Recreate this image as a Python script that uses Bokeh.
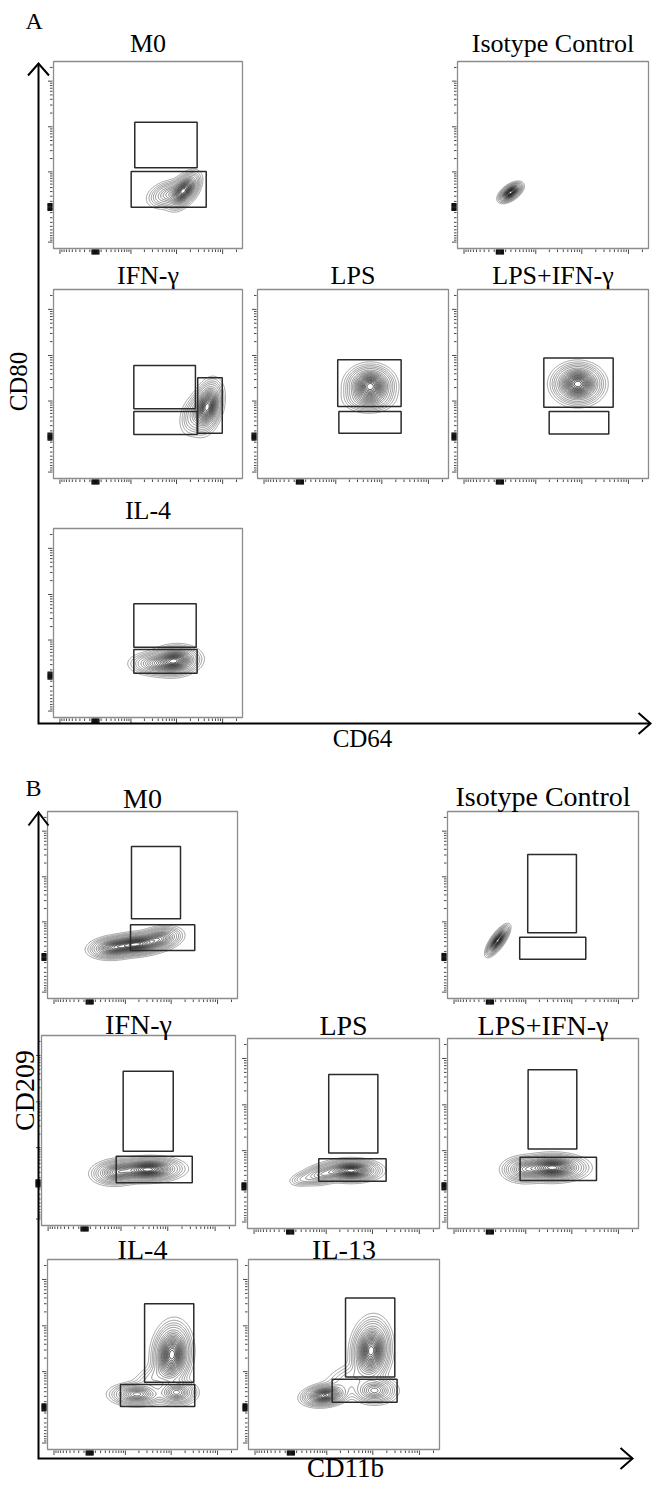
import numpy as np
from contourpy import contour_generator
from bokeh.plotting import figure
from bokeh.models import Range1d
from bokeh.core.properties import value
from bokeh.embed import file_html
from bokeh.resources import INLINE

SERIF = value("Liberation Serif")
PAGE_W, PAGE_H = 654, 1486

# ---------------------------------------------------------------------------
# Axis scale: logicle-like display units (0..1 across each plot box)
# ---------------------------------------------------------------------------
Z0, DEC, LIN = 0.222, 0.106, 350.0


def disp(v):
    return Z0 + DEC * np.arcsinh(np.asarray(v, dtype=float) / LIN)


tick_major = [-1e3, 1e3, 1e4, 1e5]
tick_zero = [-60, -45, -30, -15, 0, 15, 30, 45, 60]
tick_minor = ([s * k * 100 for k in range(1, 10) for s in (-1, 1)]
              + [k * 10 ** e for e in (3, 4) for k in range(2, 10)] + [2e5])

# ---------------------------------------------------------------------------
# Gates (x0, x1, y0, y1) and populations (cx, cy, sx, sy, rho, weight)
# in display units
# ---------------------------------------------------------------------------
titles_a = ["M0", "Isotype Control", "IFN-γ", "LPS", "LPS+IFN-γ", "IL-4"]
titles_b = ["M0", "Isotype Control", "IFN-γ", "LPS", "LPS+IFN-γ", "IL-4", "IL-13"]

gates_a_m0 = [(0.430, 0.760, 0.432, 0.675), (0.411, 0.808, 0.221, 0.412)]
gates_a_iso = []
gates_a_ifn = [(0.425, 0.751, 0.369, 0.598), (0.425, 0.760, 0.233, 0.354),
               (0.763, 0.893, 0.240, 0.533)]
gates_a_lps = [(0.420, 0.752, 0.381, 0.628), (0.426, 0.752, 0.240, 0.354)]
gates_a_lpsifn = [(0.452, 0.815, 0.377, 0.637), (0.480, 0.792, 0.236, 0.354)]
gates_a_il4 = [(0.425, 0.755, 0.372, 0.602), (0.425, 0.760, 0.234, 0.360)]

gates_b_m0 = [(0.442, 0.700, 0.426, 0.813), (0.437, 0.775, 0.257, 0.394)]
gates_b_iso = [(0.420, 0.675, 0.351, 0.770), (0.378, 0.724, 0.210, 0.328)]
gates_b_ifn = [(0.421, 0.679, 0.391, 0.812), (0.385, 0.777, 0.225, 0.365)]
gates_b_lps = [(0.423, 0.679, 0.398, 0.811), (0.371, 0.722, 0.249, 0.367)]
gates_b_lpsifn = [(0.422, 0.677, 0.419, 0.835), (0.380, 0.780, 0.253, 0.375)]
gates_b_il4 = [(0.511, 0.770, 0.354, 0.767), (0.384, 0.775, 0.226, 0.342)]
gates_b_il13 = [(0.508, 0.766, 0.381, 0.798), (0.438, 0.778, 0.249, 0.370)]

pops_a_m0 = [(0.69, 0.31, 0.035, 0.040, 0.5, 1.0), (0.61, 0.29, 0.048, 0.032, 0.3, 0.35)]
pops_a_iso = [(0.278, 0.30, 0.025, 0.021, 0.55, 1.0)]
pops_a_ifn = [(0.815, 0.38, 0.033, 0.056, 0.3, 1.0), (0.75, 0.34, 0.036, 0.050, 0.3, 0.2)]
pops_a_lps = [(0.59, 0.49, 0.052, 0.044, 0.0, 1.0), (0.58, 0.42, 0.056, 0.030, 0.0, 0.25)]
pops_a_lpsifn = [(0.63, 0.50, 0.055, 0.044, 0.0, 1.0)]
pops_a_il4 = [(0.64, 0.30, 0.055, 0.032, 0.1, 1.0), (0.53, 0.285, 0.055, 0.026, 0.0, 0.35)]

pops_b_m0 = [(0.35, 0.272, 0.055, 0.025, 0.15, 0.75), (0.47, 0.29, 0.060, 0.025, 0.15, 1.0),
             (0.59, 0.32, 0.050, 0.027, 0.25, 0.6)]
pops_b_iso = [(0.263, 0.31, 0.024, 0.032, 0.75, 1.0)]
pops_b_ifn = [(0.55, 0.295, 0.072, 0.026, 0.05, 1.0), (0.39, 0.28, 0.055, 0.028, 0.1, 0.55)]
pops_b_lps = [(0.54, 0.305, 0.062, 0.024, 0.0, 1.0), (0.39, 0.285, 0.050, 0.024, 0.3, 0.35),
              (0.29, 0.26, 0.035, 0.018, 0.3, 0.1)]
pops_b_lpsifn = [(0.55, 0.32, 0.072, 0.029, 0.0, 1.0), (0.40, 0.31, 0.050, 0.029, 0.0, 0.4)]
pops_b_il4 = [(0.655, 0.50, 0.042, 0.068, 0.1, 1.0), (0.47, 0.29, 0.060, 0.025, 0.0, 0.55),
              (0.68, 0.30, 0.045, 0.028, 0.0, 0.5), (0.56, 0.38, 0.060, 0.045, 0.6, 0.1)]
pops_b_il13 = [(0.642, 0.52, 0.042, 0.068, 0.1, 1.0), (0.40, 0.285, 0.050, 0.024, 0.2, 0.85),
               (0.66, 0.31, 0.050, 0.030, 0.0, 0.45), (0.52, 0.37, 0.065, 0.045, 0.5, 0.1)]

gates_a = [gates_a_m0, gates_a_iso, gates_a_ifn, gates_a_lps, gates_a_lpsifn, gates_a_il4]
pops_a = [pops_a_m0, pops_a_iso, pops_a_ifn, pops_a_lps, pops_a_lpsifn, pops_a_il4]
gates_b = [gates_b_m0, gates_b_iso, gates_b_ifn, gates_b_lps, gates_b_lpsifn,
           gates_b_il4, gates_b_il13]
pops_b = [pops_b_m0, pops_b_iso, pops_b_ifn, pops_b_lps, pops_b_lpsifn,
          pops_b_il4, pops_b_il13]

# Plot-box placement on the page: left, top, width, height, title gap (px)
boxes_a = [(53, 61, 189, 187, 9), (457, 61, 191, 187, 9),
           (53, 289, 189, 189, 5), (257, 289, 191, 189, 5), (457, 289, 191, 189, 5),
           (53, 528, 189, 189, 9)]
boxes_b = [(47, 811, 190, 187, 4), (447, 811, 191, 187, 6),
           (41, 1035, 194, 190, 2), (247, 1038, 192, 190, 4), (447, 1038, 191, 190, 4),
           (47, 1259, 190, 190, 1), (248, 1259, 191, 190, 1)]

levels = [0.015, 0.03, 0.05, 0.075] + list(np.linspace(0.11, 0.95, 17))

# ---------------------------------------------------------------------------
p = figure(width=PAGE_W, height=PAGE_H, x_range=Range1d(0, PAGE_W),
           y_range=Range1d(PAGE_H, 0), output_backend="svg", toolbar_location=None,
           x_axis_location=None, y_axis_location=None, min_border=0,
           outline_line_color=None)
p.xgrid.visible = False
p.ygrid.visible = False


def density(pops, n=260):
    u = np.linspace(-0.02, 1.02, n)
    X, Y = np.meshgrid(u, u)
    Z = np.zeros_like(X)
    for cx, cy, sx, sy, rho, w in pops:
        dx = (X - cx) / sx
        dy = (Y - cy) / sy
        q = (dx * dx - 2 * rho * dx * dy + dy * dy) / (1 - rho * rho)
        Z += w * np.exp(-0.5 * q)
    return X, Y, Z / Z.max()


def add_panel(key, box, title, font_px, gates, pops):
    L, T, W, H, gap = box
    rx, ry = f"x_{key}", f"y_{key}"
    B = T + H
    p.extra_x_ranges[rx] = Range1d(-L / W, (PAGE_W - L) / W)
    p.extra_y_ranges[ry] = Range1d((B - PAGE_H) / H, B / H)
    kw = dict(x_range_name=rx, y_range_name=ry)

    # plot box
    p.quad(left=[0], right=[1], bottom=[0], top=[1], fill_color=None,
           line_color="#8c8c8c", line_width=1.3, **kw)

    # ticks (outside the box, left and bottom)
    pos = np.array([float(disp(v)) for v in tick_minor + tick_major])
    ln = np.array([2.5] * len(tick_minor) + [4.5] * len(tick_major))
    keep = (pos > 0.0) & (pos < 1.0)
    pos, ln = pos[keep], ln[keep]
    p.segment(x0=pos, x1=pos, y0=np.full_like(pos, -1.0 / H), y1=-(1.0 + ln) / H,
              line_color="#4a4a4a", line_width=1, **kw)
    p.segment(x0=np.full_like(pos, -1.0 / W), x1=-(1.0 + ln) / W, y0=pos, y1=pos,
              line_color="#4a4a4a", line_width=1, **kw)
    zpos = disp(tick_zero)
    p.segment(x0=zpos, x1=zpos, y0=np.full_like(zpos, -1.0 / H),
              y1=np.full_like(zpos, -6.0 / H), line_color="#111111", line_width=1.4, **kw)
    p.segment(x0=np.full_like(zpos, -1.0 / W), x1=np.full_like(zpos, -6.0 / W),
              y0=zpos, y1=zpos, line_color="#111111", line_width=1.4, **kw)

    # contour lines of the population density
    X, Y, Z = density(pops)
    gen = contour_generator(X, Y, Z)
    n = len(levels)
    xs, ys, cols = [], [], []
    for i, lev in enumerate(levels):
        g = int(round(135 - (135 - 20) * i / (n - 1)))
        col = "#%02x%02x%02x" % (g, g, g)
        for seg in gen.lines(lev):
            xs.append(seg[:, 0].tolist()); ys.append(seg[:, 1].tolist()); cols.append(col)
    p.multi_line(xs=xs, ys=ys, line_color=cols, line_width=0.8, **kw)

    # gates
    if gates:
        x0, x1, y0, y1 = zip(*gates)
        p.quad(left=list(x0), right=list(x1), bottom=list(y0), top=list(y1),
               fill_color=None, line_color="#2b2b2b", line_width=1.5, **kw)

    # title
    p.text(x=[0.5], y=[1 + (gap + 0.33 * font_px) / H], text=[title], text_font=SERIF,
           text_font_size=f"{font_px}px", text_align="center",
           text_baseline="alphabetic", text_color="black", **kw)


for i, (t, g, pp, bx) in enumerate(zip(titles_a, gates_a, pops_a, boxes_a)):
    add_panel(f"a{i}", bx, t, 26, g, pp)
for i, (t, g, pp, bx) in enumerate(zip(titles_b, gates_b, pops_b, boxes_b)):
    add_panel(f"b{i}", bx, t, 28, g, pp)

# ---------------------------------------------------------------------------
# Outer axes with arrows, section letters and axis titles (page pixels)
# ---------------------------------------------------------------------------
axis_xs = [[38, 38, 650], [27.5, 38, 48.5], [638, 650, 638],
           [38, 38, 632], [28, 38, 48], [620, 632, 620]]
axis_ys = [[63, 723, 723], [75, 63, 75], [712.5, 723, 733.5],
           [812, 1458, 1458], [825, 812, 825], [1447.5, 1458, 1468.5]]
p.multi_line(xs=axis_xs, ys=axis_ys, line_color="black", line_width=2,
             line_join="miter")

p.text(x=[25, 25], y=[20, 787], text=["A", "B"], text_font=SERIF,
       text_font_size="24px", text_align="left", text_baseline="alphabetic")
p.text(x=[362], y=[738], text=["CD64"], text_font=SERIF, text_font_size="25px",
       text_align="center", text_baseline="alphabetic")
p.text(x=[18], y=[381], text=["CD80"], text_font=SERIF, text_font_size="25px",
       text_align="center", text_baseline="middle", angle=np.pi / 2)
p.text(x=[345], y=[1467], text=["CD11b"], text_font=SERIF, text_font_size="27px",
       text_align="center", text_baseline="alphabetic")
p.text(x=[24], y=[1090], text=["CD209"], text_font=SERIF, text_font_size="28px",
       text_align="center", text_baseline="middle", angle=np.pi / 2)

open("out.html", "w").write(file_html(p, INLINE))
